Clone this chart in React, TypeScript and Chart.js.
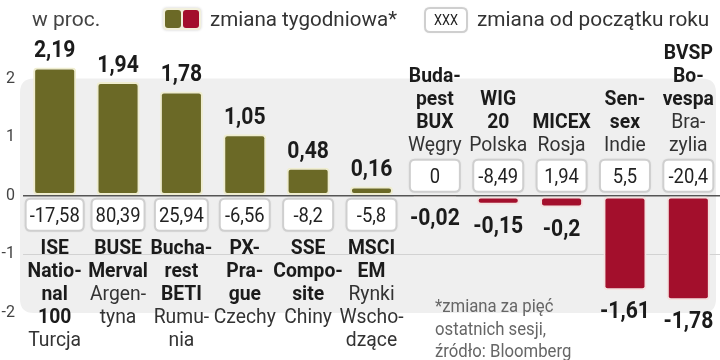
import React, { useEffect, useRef } from "react";
import { Chart, registerables } from "chart.js";

Chart.register(...registerables);

// ---- data ----
const indexNames: string[][] = [
  ["ISE", "Natio-", "nal", "100"],
  ["BUSE", "Merval"],
  ["Bucha-", "rest", "BETI"],
  ["PX-", "Pra-", "gue"],
  ["SSE", "Compo-", "site"],
  ["MSCI", "EM"],
  ["Buda-", "pest", "BUX"],
  ["WIG", "20"],
  ["MICEX"],
  ["Sen-", "sex"],
  ["BVSP", "Bo-", "vespa"],
];
const countryNames: string[][] = [
  ["Turcja"],
  ["Argen-", "tyna"],
  ["Rumu-", "nia"],
  ["Czechy"],
  ["Chiny"],
  ["Rynki", "Wscho-", "dzące"],
  ["Węgry"],
  ["Polska"],
  ["Rosja"],
  ["Indie"],
  ["Bra-", "zylia"],
];
const weeklyChange: number[] = [2.19, 1.94, 1.78, 1.05, 0.48, 0.16, -0.02, -0.15, -0.2, -1.61, -1.78];
const ytdChange: number[] = [-17.58, 80.39, 25.94, -6.56, -8.2, -5.8, 0, -8.49, 1.94, 5.5, -20.4];
const yTicks: number[] = [-2, -1, 0, 1, 2];

const OLIVE = "#6b6926";
const RED = "#a30f2c";
const FONT = "Roboto, 'Liberation Sans', sans-serif";

const fmt = (v: number) => String(v).replace(".", ",");

function txt(
  ctx: CanvasRenderingContext2D,
  s: string,
  x: number,
  y: number,
  font: string,
  color: string,
  align: CanvasTextAlign = "center",
  sx = 1
) {
  ctx.save();
  ctx.font = font;
  ctx.fillStyle = color;
  ctx.textAlign = align;
  ctx.textBaseline = "alphabetic";
  ctx.translate(x, y);
  ctx.scale(sx, 1);
  ctx.fillText(s, 0, 0);
  ctx.restore();
}

function rrect(ctx: CanvasRenderingContext2D, x: number, y: number, w: number, h: number, r: number) {
  ctx.beginPath();
  ctx.moveTo(x + r, y);
  ctx.lineTo(x + w - r, y);
  ctx.quadraticCurveTo(x + w, y, x + w, y + r);
  ctx.lineTo(x + w, y + h - r);
  ctx.quadraticCurveTo(x + w, y + h, x + w - r, y + h);
  ctx.lineTo(x + r, y + h);
  ctx.quadraticCurveTo(x, y + h, x, y + h - r);
  ctx.lineTo(x, y + r);
  ctx.quadraticCurveTo(x, y, x + r, y);
  ctx.closePath();
}

function valueBox(ctx: CanvasRenderingContext2D, cx: number, top: number, label: string, minW: number, h: number, font: string, sx: number) {
  ctx.save();
  ctx.font = font;
  const tw = ctx.measureText(label).width * sx;
  const w = Math.max(minW, tw + 8);
  ctx.shadowColor = "rgba(0,0,0,0.12)";
  ctx.shadowBlur = 3;
  rrect(ctx, cx - w / 2, top, w, h, 5);
  ctx.fillStyle = "#ffffff";
  ctx.fill();
  ctx.shadowColor = "transparent";
  ctx.lineWidth = 2;
  ctx.strokeStyle = "#cfcfcf";
  ctx.stroke();
  ctx.restore();
}

const decorPlugin = {
  id: "decor",
  beforeDraw(chart: any) {
    const { ctx, scales } = chart;
    const y = scales.y;
    const top = y.getPixelForValue(2);
    const bottom = y.getPixelForValue(-2);
    ctx.save();
    ctx.fillStyle = "#efefef";
    rrect(ctx, 20, top, 696, bottom - top, 14);
    ctx.fill();
    ctx.restore();
  },
  afterDatasetsDraw(chart: any) {
    const { ctx, scales } = chart;
    const xs = scales.x;
    const ys = scales.y;
    const y0 = ys.getPixelForValue(0);
    const boxFont = `20px ${FONT}`;
    const boldFont = `bold 21px ${FONT}`;
    const regFont = `21px ${FONT}`;
    const valFont = `bold 24px ${FONT}`;
    const lh = 23;
    weeklyChange.forEach((v, i) => {
      const cx = xs.getPixelForValue(i);
      const yv = ys.getPixelForValue(v);
      const ytdLabel = fmt(ytdChange[i]);
      const lines = [
        ...indexNames[i].map((s) => ({ s, bold: true })),
        ...countryNames[i].map((s) => ({ s, bold: false })),
      ];
      if (v >= 0) {
        txt(ctx, fmt(v), cx, yv - 10, valFont, "#1b1b1b", "center", 0.88);
        valueBox(ctx, cx, y0 + 3, ytdLabel, 50, 32, boxFont, 0.92);
        txt(ctx, ytdLabel, cx, y0 + 26, boxFont, "#222", "center", 0.92);
        lines.forEach((l, k) => {
          txt(ctx, l.s, cx, y0 + 58 + k * lh, l.bold ? boldFont : regFont, l.bold ? "#1b1b1b" : "#333", "center", 0.92);
        });
      } else {
        txt(ctx, fmt(v), cx, yv + 28, valFont, "#1b1b1b", "center", 0.88);
        valueBox(ctx, cx, y0 - 36, ytdLabel, 50, 32, boxFont, 0.92);
        txt(ctx, ytdLabel, cx, y0 - 13, boxFont, "#222", "center", 0.92);
        const n = lines.length;
        lines.forEach((l, k) => {
          txt(ctx, l.s, cx, y0 - 45 - (n - 1 - k) * lh, l.bold ? boldFont : regFont, l.bold ? "#1b1b1b" : "#333", "center", 0.92);
        });
      }
    });

    // legend
    txt(ctx, "w proc.", 32, 26, `21px ${FONT}`, "#444", "left", 1);
    ctx.save();
    ctx.shadowColor = "rgba(0,0,0,0.2)";
    ctx.shadowBlur = 3;
    rrect(ctx, 163, 8, 38, 22, 4);
    ctx.fillStyle = "#f2f0dc";
    ctx.fill();
    ctx.restore();
    ctx.save();
    rrect(ctx, 165, 10, 16, 18, 3);
    ctx.fillStyle = OLIVE;
    ctx.fill();
    rrect(ctx, 183, 10, 16, 18, 3);
    ctx.fillStyle = RED;
    ctx.fill();
    ctx.restore();
    txt(ctx, "zmiana tygodniowa*", 210, 26, `21px ${FONT}`, "#333", "left", 0.98);
    valueBox(ctx, 446, 8, "", 42, 24, boxFont, 1);
    txt(ctx, "XXX", 446, 25, `15px ${FONT}`, "#222", "center", 0.85);
    txt(ctx, "zmiana od początku roku", 477, 26, `21px ${FONT}`, "#333", "left", 0.99);

    // footnote
    const fn = ["*zmiana za pięć", "ostatnich sesji,", "źródło: Bloomberg"];
    fn.forEach((s, k) => txt(ctx, s, 435, 312 + k * 22.5, `19px ${FONT}`, "#666", "left", 0.88));
  },
};

export default function App() {
  const ref = useRef<HTMLCanvasElement | null>(null);
  useEffect(() => {
    if (!ref.current) return;
    const chart = new Chart(ref.current, {
      type: "bar",
      data: {
        labels: indexNames.map((n) => n.join(" ")),
        datasets: [
          {
            data: weeklyChange,
            backgroundColor: weeklyChange.map((v) => (v >= 0 ? OLIVE : RED)),
            borderColor: weeklyChange.map((v) => (v >= 0 ? "#efedcf" : "#f4e2e0")),
            borderWidth: 2,
            borderRadius: 4,
            borderSkipped: false,
            barPercentage: 0.68,
            categoryPercentage: 1,
          },
        ],
      },
      options: {
        responsive: false,
        animation: false,
        events: [],
        layout: { padding: { top: 61, bottom: 9, left: 0, right: 0 } },
        plugins: { legend: { display: false }, tooltip: { enabled: false } },
        scales: {
          x: { display: false },
          y: {
            min: -2.5,
            max: 2.3,
            afterBuildTicks: (s: any) => {
              s.ticks = yTicks.map((v) => ({ value: v }));
            },
            afterFit: (s: any) => {
              s.width = 23;
            },
            border: { display: false },
            grid: {
              drawTicks: false,
              color: (c: any) =>
                c.tick && c.tick.value === 0 ? "#555" : c.tick && c.tick.value === -1 ? "#d2d2d2" : "rgba(0,0,0,0)",
              lineWidth: (c: any) => (c.tick && c.tick.value === 0 ? 1.5 : 1),
            },
            ticks: {
              padding: 8,
              color: "#444",
              font: { family: "Roboto", size: 16 },
              callback: (v: any) => String(v),
            },
          },
        },
      },
      plugins: [decorPlugin],
    });
    return () => chart.destroy();
  }, []);
  return (
    <div style={{ position: "fixed", left: 0, top: 0, width: 720, height: 360, background: "#fff" }}>
      <canvas ref={ref} width={720} height={360} />
    </div>
  );
}
